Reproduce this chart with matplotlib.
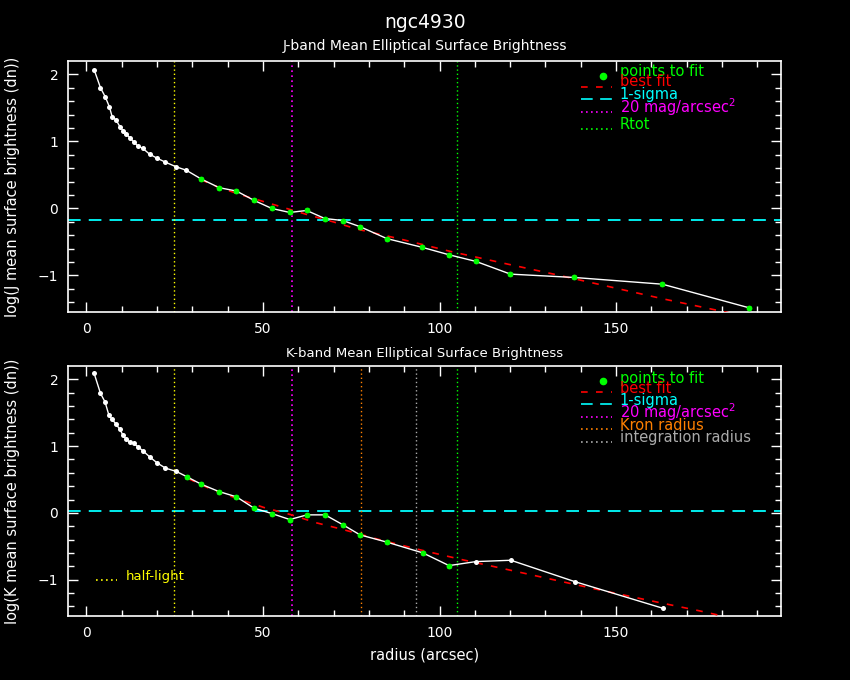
import matplotlib
matplotlib.use("Agg")
import matplotlib.pyplot as plt

# ---------------- data ----------------
title = "ngc4930"
j_title = "J-band Mean Elliptical Surface Brightness"
k_title = "K-band Mean Elliptical Surface Brightness"

radius_j = [2.2, 4.0, 5.3, 6.5, 7.3, 8.4, 9.5, 10.4, 11.3, 12.4, 13.5, 14.6, 15.9,
            17.9, 20.0, 22.4, 25.5, 28.3, 32.5, 37.6, 42.5, 47.5, 52.5, 57.6, 62.4,
            67.5, 72.6, 77.4, 85.1, 95.1, 102.6, 110.3, 120.1, 138.2, 163.1, 187.5]
sb_j = [2.07, 1.80, 1.67, 1.52, 1.37, 1.32, 1.22, 1.16, 1.11, 1.05, 0.99, 0.93, 0.90,
        0.81, 0.75, 0.69, 0.62, 0.57, 0.44, 0.31, 0.26, 0.12, 0.00, -0.06, -0.03,
        -0.15, -0.18, -0.27, -0.45, -0.58, -0.69, -0.79, -0.98, -1.03, -1.13, -1.48]
j_fit_first, j_fit_last = 18, 35

fit_r_j = [32.5, 36.2, 44.0, 54.8, 62.4, 69.9, 76.8, 88.8, 103.0, 118.4, 133.2,
           148.3, 163.4, 181.8, 192.0]
fit_sb_j = [0.43, 0.34, 0.20, 0.03, -0.09, -0.20, -0.31, -0.455, -0.64, -0.82, -0.99,
            -1.17, -1.35, -1.555, -1.66]

radius_k = [2.2, 4.0, 5.3, 6.4, 7.3, 8.4, 9.5, 10.4, 11.3, 12.3, 13.4, 14.6, 16.0,
            17.9, 20.0, 22.4, 25.5, 28.5, 32.5, 37.5, 42.5, 47.5, 52.5, 57.6, 62.5,
            67.6, 72.7, 77.5, 85.2, 95.3, 102.7, 110.3, 120.2, 138.3, 163.3]
sb_k = [2.09, 1.79, 1.66, 1.46, 1.40, 1.33, 1.25, 1.16, 1.10, 1.06, 1.04, 0.99, 0.93,
        0.84, 0.75, 0.67, 0.62, 0.54, 0.43, 0.32, 0.24, 0.07, -0.01, -0.10, -0.03,
        -0.03, -0.18, -0.33, -0.44, -0.60, -0.79, -0.73, -0.71, -1.03, -1.43]
k_fit_first, k_fit_last = 17, 30

fit_r_k = [29.0, 35.5, 43.5, 50.3, 58.1, 65.2, 72.7, 83.6, 95.0, 106.3, 117.6, 128.7,
           144.1, 159.2, 173.8, 181.4, 190.0]
fit_sb_k = [0.51, 0.35, 0.20, 0.08, -0.03, -0.15, -0.25, -0.41, -0.56, -0.70, -0.83,
            -0.96, -1.14, -1.31, -1.47, -1.56, -1.65]

sigma_j = -0.176
sigma_k = 0.03
half_light = 24.7
mag20 = 58.3
rtot = 105.0
kron = 77.9
integ = 93.4

# ---------------- style ----------------
WHITE = "#ffffff"
GREEN = "#00ff00"
RED = "#ff0000"
CYAN = "#00ffff"
MAGENTA = "#ff00ff"
ORANGE = "#ff8000"
GREY = "#aaaaaa"
YELLOW = "#ffff00"
DOT = (0, (1, 2))
DASH_RED = (0, (4, 5))
DASH_CYAN = (0, (7, 4.5))

plt.rcParams['font.family'] = ['DejaVu Sans']

fig = plt.figure(figsize=(8.5, 6.8), dpi=100, facecolor="black")
W, H = 850.0, 680.0
ax_j = fig.add_axes([68 / W, 1 - 312 / H, 713 / W, 251 / H], facecolor="black")
ax_k = fig.add_axes([68 / W, 1 - 616 / H, 713 / W, 250 / H], facecolor="black")


def style_axes(ax):
    ax.set_xlim(-5.2, 196.7)
    ax.set_ylim(-1.545, 2.2)
    for s in ax.spines.values():
        s.set_color(WHITE)
        s.set_linewidth(1.2)
    ax.set_xticks([0, 50, 100, 150])
    ax.set_xticks(range(0, 200, 10), minor=True)
    ax.set_yticks([-1, 0, 1, 2])
    ax.set_yticks([-1.4 + 0.2 * i for i in range(18)], minor=True)
    ax.tick_params(which="both", direction="in", colors=WHITE, top=True, right=True,
                   labelsize=10, width=1)
    ax.tick_params(which="major", length=7, pad=7)
    ax.tick_params(which="minor", length=4)


def draw_profile(ax, r, sb, f0, f1, fr, fsb, sig):
    ax.plot(fr, fsb, color=RED, lw=1.2, ls=DASH_RED, zorder=3)
    ax.axhline(sig, color=CYAN, lw=1.3, ls=DASH_CYAN, zorder=2)
    ax.plot(r, sb, color=WHITE, lw=1, zorder=4)
    ax.plot(r, sb, "o", color=WHITE, ms=3.6, mew=0, zorder=5)
    ax.plot(r[f0:f1 + 1], sb[f0:f1 + 1], "o", color=GREEN, ms=4.2, mew=0, zorder=6)


def legend_line(ax, y, color, ls):
    ax.plot([0.7195, 0.7626], [y, y], transform=ax.transAxes, color=color, ls=ls,
            lw=1.2, clip_on=False)


def legend_text(ax, y, s, color):
    ax.text(0.774, y, s, transform=ax.transAxes, color=color, fontsize=10.5,
            va="center", ha="left")


# ---- J panel ----
style_axes(ax_j)
draw_profile(ax_j, radius_j, sb_j, j_fit_first, j_fit_last, fit_r_j, fit_sb_j, sigma_j)
ax_j.axvline(half_light, color=YELLOW, lw=1, ls=DOT)
ax_j.axvline(mag20, color=MAGENTA, lw=1.2, ls=DOT)
ax_j.axvline(rtot, color=GREEN, lw=1, ls=DOT)
ax_j.set_ylabel("log(J mean surface brightness (dn))", color=WHITE, fontsize=10.5)
ax_j.yaxis.set_label_coords(-0.067, 0.5)

ax_j.plot([0.750], [0.939], "o", transform=ax_j.transAxes, color=GREEN, ms=4.5)
legend_text(ax_j, 0.957, "points to fit", GREEN)
legend_text(ax_j, 0.918, "best fit", RED)
legend_line(ax_j, 0.898, RED, DASH_RED)
legend_text(ax_j, 0.865, "1-sigma", CYAN)
legend_line(ax_j, 0.847, CYAN, DASH_CYAN)
legend_text(ax_j, 0.818, "20 mag/arcsec$^{2}$", MAGENTA)
legend_line(ax_j, 0.798, MAGENTA, DOT)
legend_text(ax_j, 0.748, "Rtot", GREEN)
legend_line(ax_j, 0.729, GREEN, DOT)

# ---- K panel ----
style_axes(ax_k)
draw_profile(ax_k, radius_k, sb_k, k_fit_first, k_fit_last, fit_r_k, fit_sb_k, sigma_k)
ax_k.axvline(half_light, color=YELLOW, lw=1, ls=DOT)
ax_k.axvline(mag20, color=MAGENTA, lw=1.2, ls=DOT)
ax_k.axvline(kron, color=ORANGE, lw=1, ls=DOT)
ax_k.axvline(integ, color=GREY, lw=1, ls=DOT)
ax_k.axvline(rtot, color=GREEN, lw=1, ls=DOT)
ax_k.set_ylabel("log(K mean surface brightness (dn))", color=WHITE, fontsize=10.5)
ax_k.yaxis.set_label_coords(-0.067, 0.5)
ax_k.set_xlabel("radius (arcsec)", color=WHITE, fontsize=10.5)
ax_k.xaxis.set_label_coords(0.5, -0.128)

ax_k.plot([0.751], [0.940], "o", transform=ax_k.transAxes, color=GREEN, ms=4.5)
legend_text(ax_k, 0.951, "points to fit", GREEN)
legend_text(ax_k, 0.911, "best fit", RED)
legend_line(ax_k, 0.897, RED, DASH_RED)
legend_text(ax_k, 0.864, "1-sigma", CYAN)
legend_line(ax_k, 0.848, CYAN, DASH_CYAN)
legend_text(ax_k, 0.817, "20 mag/arcsec$^{2}$", MAGENTA)
legend_line(ax_k, 0.797, MAGENTA, DOT)
legend_text(ax_k, 0.760, "Kron radius", ORANGE)
legend_line(ax_k, 0.748, ORANGE, DOT)
legend_text(ax_k, 0.713, "integration radius", GREY)
legend_line(ax_k, 0.695, GREY, DOT)

ax_k.plot([0.039, 0.069], [0.144, 0.144], transform=ax_k.transAxes, color=YELLOW,
          ls=DOT, lw=1.2)
ax_k.text(0.081, 0.157, "half-light", transform=ax_k.transAxes, color=YELLOW,
          fontsize=9.5, va="center", ha="left")

# ---- titles ----
fig.text(0.5, 1 - 23 / H, title, color=WHITE, fontsize=13.5, ha="center", va="center")
fig.text(0.5, 1 - 46 / H, j_title, color=WHITE, fontsize=10, ha="center", va="center")
fig.text(0.5, 1 - 353 / H, k_title, color=WHITE, fontsize=9.5, ha="center", va="center")

fig.savefig("out.png", dpi=100, facecolor="black")
